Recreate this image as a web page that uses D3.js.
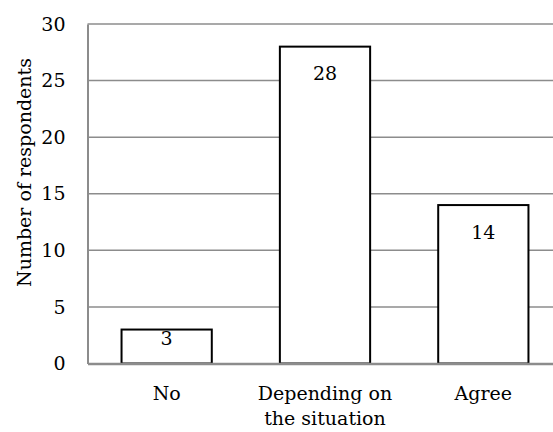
<!DOCTYPE html>
<html>
<head>
<meta charset="utf-8">
<script src="https://cdn.jsdelivr.net/npm/d3@7"></script>
<style>
html,body{margin:0;padding:0;background:#fff;}
svg{display:block;}
text{font-family:"DejaVu Serif",serif;fill:#000;}
</style>
</head>
<body>
<svg id="chart" width="553" height="432"></svg>
<script>
const categories = ["No", "Depending on the situation", "Agree"];
const categoryLines = [["No"], ["Depending on", "the situation"], ["Agree"]];
const values = [3, 28, 14];
const yTicks = [0, 5, 10, 15, 20, 25, 30];
const yTitle = "Number of respondents";

(function() {
const svg = d3.select("#chart");
const pL = 87.5, pR = 562.5, pT = 24, pB = 363.5;
const FS = 19;

const x = d3.scaleBand().domain(categories).range([pL, pR]).paddingInner(0.43).paddingOuter(0.215);
const y = d3.scaleLinear().domain([0, 30]).range([pB, pT]);

// gridlines
svg.append("g").selectAll("line").data(yTicks.filter(d => d > 0)).join("line")
  .attr("x1", pL).attr("x2", pR)
  .attr("y1", d => y(d)).attr("y2", d => y(d))
  .attr("stroke", "#8c8c8c").attr("stroke-width", 1.5);

// y axis
const yAxis = d3.axisLeft(y).tickValues(yTicks).tickSize(0).tickPadding(22);
const gy = svg.append("g").attr("transform", `translate(${pL},0)`).call(yAxis);
gy.attr("font-family", null).attr("font-size", null);
gy.select(".domain").attr("stroke", "#8c8c8c").attr("stroke-width", 2);
gy.selectAll("text").attr("font-size", FS);

// bars
svg.append("g").selectAll("rect").data(values).join("rect")
  .attr("x", (d, i) => x(categories[i]))
  .attr("width", x.bandwidth())
  .attr("y", d => y(d))
  .attr("height", d => y(0) - y(d))
  .attr("fill", "#fff").attr("stroke", "#000").attr("stroke-width", 2);

// x axis
const xAxis = d3.axisBottom(x).tickSize(0).tickFormat("");
const gx = svg.append("g").attr("transform", `translate(0,${pB})`).call(xAxis);
gx.select(".domain").attr("stroke", "#8c8c8c").attr("stroke-width", 2.5);

// category labels
const lab = svg.append("g").selectAll("text").data(categories).join("text")
  .attr("x", d => x(d) + x.bandwidth() / 2)
  .attr("y", 400)
  .attr("text-anchor", "middle").attr("font-size", FS);
lab.each(function(d, i) {
  const t = d3.select(this);
  categoryLines[i].forEach((line, j) => {
    t.append("tspan").attr("x", x(d) + x.bandwidth() / 2).attr("dy", j === 0 ? 0 : 25).text(line);
  });
});

// data labels
svg.append("g").selectAll("text").data(values).join("text")
  .attr("x", (d, i) => x(categories[i]) + x.bandwidth() / 2)
  .attr("y", d => d < 5 ? y(d) + 15.5 : y(d) + 33.5)
  .attr("text-anchor", "middle").attr("font-size", FS)
  .text(d => d);

// y title
svg.append("text")
  .attr("transform", `translate(24,${(57 + 288) / 2}) rotate(-90)`)
  .attr("text-anchor", "middle").attr("dominant-baseline", "central").attr("font-size", FS)
  .text(yTitle);
})();
</script>
</body>
</html>
